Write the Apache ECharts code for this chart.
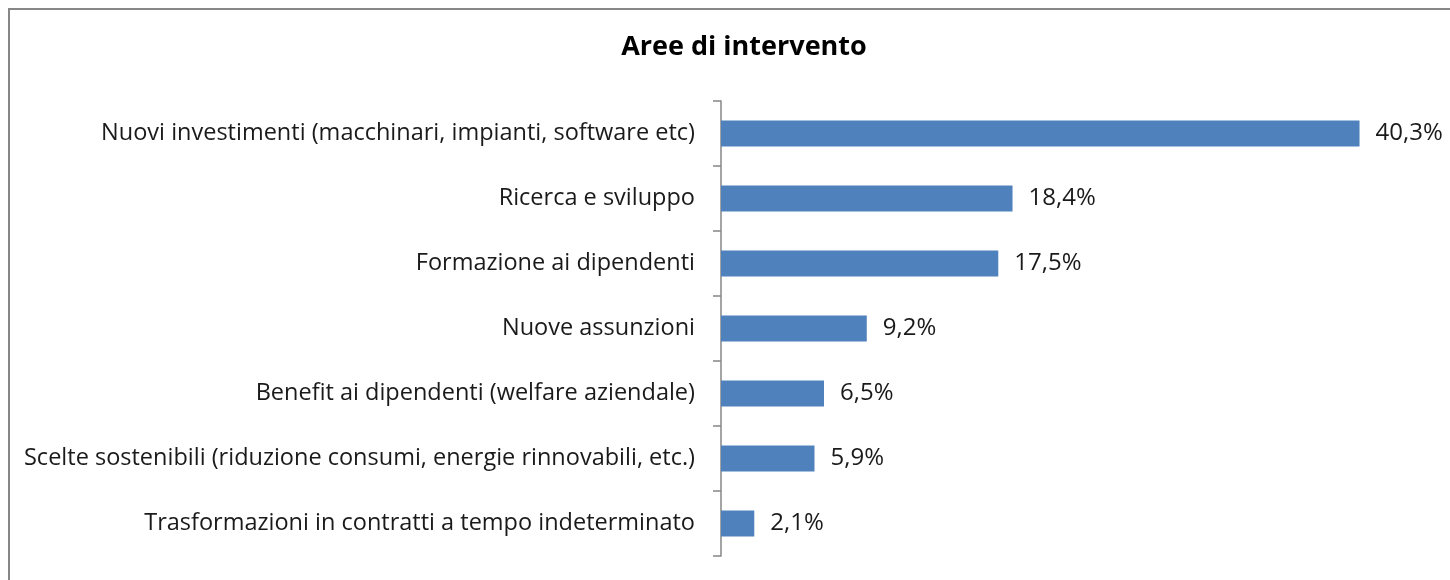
<!DOCTYPE html>
<html>
<head>
<meta charset="UTF-8">
<title>Aree di intervento</title>
<script src="https://cdn.jsdelivr.net/npm/echarts@6/dist/echarts.min.js"></script>
<style>
  html, body { margin: 0; padding: 0; background: #fff; }
  #main { width: 1450px; height: 580px; }
</style>
</head>
<body>
<div id="main"></div>
<script>
// categorie e valori (%)
var categories = [
  'Nuovi investimenti (macchinari, impianti, software etc)',
  'Ricerca e sviluppo',
  'Formazione ai dipendenti',
  'Nuove assunzioni',
  'Benefit ai dipendenti (welfare aziendale)',
  'Scelte sostenibili (riduzione consumi, energie rinnovabili, etc.)',
  'Trasformazioni in contratti a tempo indeterminato'
];
var values = [40.3, 18.4, 17.5, 9.2, 6.5, 5.9, 2.1];

var font = 'Open Sans';
var chart = echarts.init(document.getElementById('main'));

var option = {
  animation: false,
  backgroundColor: '#fff',
  title: {
    text: 'Aree di intervento',
    left: 739,
    top: 29,
    textAlign: 'center',
    textStyle: { fontFamily: font, fontSize: 27, fontWeight: 'bold', color: '#000' }
  },
  graphic: [{
    type: 'rect',
    shape: { x: 9, y: 9, width: 1500, height: 600 },
    style: { fill: 'none', stroke: '#878787', lineWidth: 2 },
    silent: true
  }],
  grid: { left: 721, right: 16, top: 101, bottom: 24 },
  xAxis: {
    type: 'value',
    min: 0,
    max: 45,
    show: false
  },
  yAxis: {
    type: 'category',
    data: categories,
    inverse: true,
    axisLine: { show: true, lineStyle: { color: '#868686', width: 1.5 } },
    axisTick: { show: true, length: 8, lineStyle: { color: '#868686', width: 1.5 } },
    axisLabel: { fontFamily: font, fontSize: 23.5, color: '#1a1a1a', margin: 26 }
  },
  series: [{
    type: 'bar',
    data: values,
    barCategoryGap: '60%',
    itemStyle: { color: '#4F81BD' },
    label: {
      show: true,
      position: 'right',
      distance: 16,
      fontFamily: font,
      fontSize: 24,
      color: '#1a1a1a',
      formatter: function (p) { return p.value.toFixed(1).replace('.', ',') + '%'; }
    }
  }]
};

chart.setOption(option);
</script>
</body>
</html>
